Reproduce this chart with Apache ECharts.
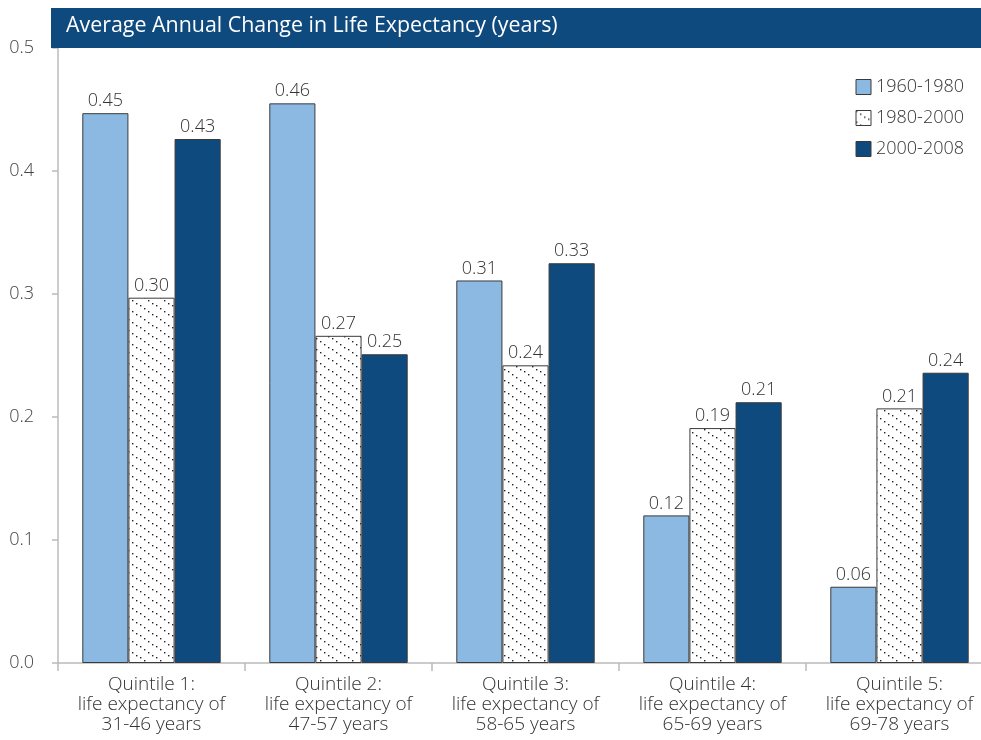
<!DOCTYPE html>
<html>
<head>
<meta charset="utf-8">
<script src="https://cdn.jsdelivr.net/npm/echarts@6/dist/echarts.min.js"></script>
<style>
  html, body { margin: 0; padding: 0; background: #fff; }
  #chart { width: 981px; height: 740px; }
</style>
</head>
<body>
<div id="chart"></div>
<script>
// Category labels (quintiles of life expectancy)
const categories = [
  'Quintile 1:\nlife expectancy of\n31-46 years',
  'Quintile 2:\nlife expectancy of\n47-57 years',
  'Quintile 3:\nlife expectancy of\n58-65 years',
  'Quintile 4:\nlife expectancy of\n65-69 years',
  'Quintile 5:\nlife expectancy of\n69-78 years'
];
const seriesNames = ['1960-1980', '1980-2000', '2000-2008'];
// Average annual change in life expectancy, years
const values1960_1980 = [0.447, 0.455, 0.311, 0.120, 0.062];
const values1980_2000 = [0.297, 0.266, 0.242, 0.191, 0.207];
const values2000_2008 = [0.426, 0.251, 0.325, 0.212, 0.236];
const yTicks = [0, 0.1, 0.2, 0.3, 0.4, 0.5];

const LIGHT = '#8cb9e2';
const DARK = '#0e4a7e';
const FONT = '"Open Sans", "Noto Sans", sans-serif';

// Dotted diagonal hatch used for the middle period
function makeHatch() {
  const w = 16, h = 11;
  const c = document.createElement('canvas');
  c.width = w; c.height = h;
  const ctx = c.getContext('2d');
  ctx.fillStyle = '#ffffff';
  ctx.fillRect(0, 0, w, h);
  ctx.fillStyle = '#222222';
  for (let k = 0; k < 4; k++) {
    ctx.fillRect(Math.round(k * 4), Math.round(k * 2.75), 1.4, 1.4);
  }
  return c;
}
const hatch = { image: makeHatch(), repeat: 'repeat' };

const chart = echarts.init(document.getElementById('chart'), null, { renderer: 'canvas' });

const labelStyle = {
  show: true,
  position: 'top',
  distance: 3,
  color: '#333',
  fontSize: 18,
  fontWeight: 300,
  fontFamily: FONT,
  formatter: p => p.value.toFixed(2)
};

function barSeries(name, data, color) {
  return {
    name: name,
    type: 'bar',
    data: data,
    barGap: '0%',
    barCategoryGap: '26%',
    itemStyle: { color: color, borderColor: '#3a3a3a', borderWidth: 1 },
    label: labelStyle
  };
}

chart.setOption({
  animation: false,
  textStyle: { fontFamily: FONT },
  graphic: [
    {
      type: 'rect',
      shape: { x: 51, y: 8, width: 930, height: 40 },
      style: { fill: DARK },
      z: 10
    },
    {
      type: 'text',
      left: 66,
      top: 15,
      style: {
        text: 'Average Annual Change in Life Expectancy (years)',
        fill: '#ffffff',
        fontSize: 21.4,
        fontFamily: FONT
      },
      z: 11
    }
  ],
  legend: {
    orient: 'vertical',
    right: 12,
    top: 73,
    icon: 'rect',
    itemWidth: 15,
    itemHeight: 15,
    itemGap: 13,
    textStyle: { fontSize: 18, fontWeight: 300, color: '#333', fontFamily: FONT },
    data: seriesNames.map(n => ({ name: n, itemStyle: { borderColor: '#3a3a3a', borderWidth: 1 } }))
  },
  grid: {
    left: 58,
    top: 48,
    width: 935,
    bottom: 77,
    outerBoundsMode: 'none',
    containLabel: false
  },
  xAxis: {
    type: 'category',
    data: categories,
    axisLine: { lineStyle: { color: '#bbbbbb', width: 1.5 } },
    axisTick: { show: true, length: 8, lineStyle: { color: '#bbbbbb', width: 1.5 } },
    axisLabel: {
      color: '#333',
      fontSize: 19,
      fontWeight: 300,
      lineHeight: 20,
      margin: 12,
      interval: 0,
      fontFamily: FONT
    }
  },
  yAxis: {
    type: 'value',
    min: yTicks[0],
    max: yTicks[yTicks.length - 1],
    interval: 0.1,
    splitLine: { show: false },
    axisLine: { show: true, lineStyle: { color: '#bbbbbb', width: 1.5 } },
    axisTick: { show: true, length: 6, lineStyle: { color: '#bbbbbb', width: 1.5 } },
    axisLabel: {
      color: '#444',
      fontSize: 18,
      fontWeight: 300,
      margin: 24,
      fontFamily: FONT,
      formatter: v => v.toFixed(1)
    }
  },
  series: [
    barSeries(seriesNames[0], values1960_1980, LIGHT),
    barSeries(seriesNames[1], values1980_2000, hatch),
    barSeries(seriesNames[2], values2000_2008, DARK)
  ]
});
</script>
</body>
</html>
